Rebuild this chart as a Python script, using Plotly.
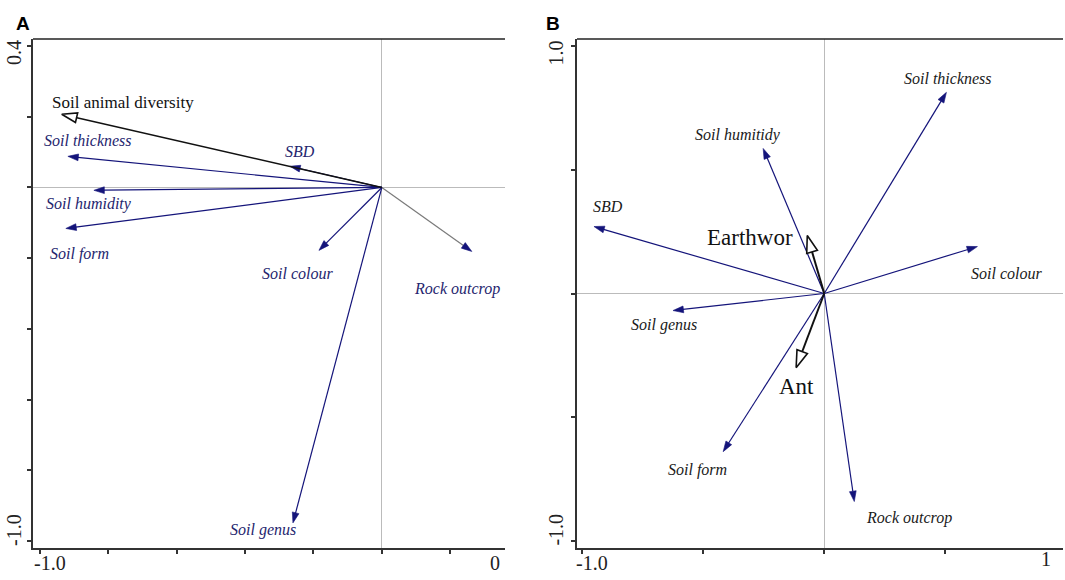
import plotly.graph_objects as go

# panel A: environmental vectors (RDA biplot scores)
a_names = ["Soil thickness", "SBD", "Soil humidity", "Soil form", "Soil colour",
           "Rock outcrop", "Soil genus"]
a_x = [-0.918, -0.269, -0.842, -0.924, -0.184, 0.263, -0.260]
a_y = [0.088, 0.060, -0.008, -0.116, -0.178, -0.181, -0.949]
a_label_x = [-0.860, -0.240, -0.857, -0.883, -0.246, 0.219, -0.348]
a_label_y = [0.133, 0.102, -0.048, -0.187, -0.244, -0.286, -0.969]

# panel A: response variable
a_resp_name = "Soil animal diversity"
a_resp_x = -0.936
a_resp_y = 0.207
a_resp_label = (-0.757, 0.241)

# panel B: environmental vectors
b_names = ["Soil thickness", "Soil humitidy", "SBD", "Soil colour", "Soil genus",
           "Soil form", "Rock outcrop"]
b_x = [0.504, -0.252, -0.950, 0.632, -0.624, -0.417, 0.124]
b_y = [0.814, 0.587, 0.271, 0.190, -0.069, -0.640, -0.842]
b_label_x = [0.512, -0.355, -0.893, 0.752, -0.661, -0.521, 0.351]
b_label_y = [0.870, 0.640, 0.352, 0.081, -0.126, -0.713, -0.907]

# panel B: response variables
b_resp_names = ["Earthwor", "Ant"]
b_resp_x = [-0.070, -0.116]
b_resp_y = [0.235, -0.300]
b_resp_label_x = [-0.306, -0.116]
b_resp_label_y = [0.227, -0.377]

NAVY = "#14147a"
SERIF = "Liberation Serif"

fig = go.Figure()


def add_vector(x, y, xa, ya, line_color, head_color, width=1.2, size=11, open_head=False):
    # size array would make plotly default to bubble opacity, so force opacity=1
    fig.add_trace(go.Scatter(
        x=[0, x], y=[0, y], xaxis=xa, yaxis=ya,
        mode="lines+markers",
        line=dict(color=line_color, width=width),
        marker=dict(symbol=["circle", "arrow"], size=[0, size], angleref="previous", opacity=1,
                    color="white" if open_head else head_color,
                    line=dict(color=head_color, width=1.6 if open_head else 0.6)),
        showlegend=False, hoverinfo="skip"))


# panel A
for i in range(len(a_names)):
    lc = "#7a7a7a" if a_names[i] == "Rock outcrop" else NAVY
    add_vector(a_x[i], a_y[i], "x", "y", lc, NAVY)
add_vector(a_resp_x, a_resp_y, "x", "y", "#111111", "#111111", width=1.5, size=16, open_head=True)

# panel B
for i in range(len(b_names)):
    add_vector(b_x[i], b_y[i], "x2", "y2", NAVY, NAVY)
for i in range(len(b_resp_names)):
    add_vector(b_resp_x[i], b_resp_y[i], "x2", "y2", "#111111", "#111111",
               width=2, size=18, open_head=True)

ann = []
for i in range(len(a_names)):
    ann.append(dict(x=a_label_x[i], y=a_label_y[i], xref="x", yref="y", text="<i>%s</i>" % a_names[i],
                    showarrow=False, font=dict(family=SERIF, size=16, color="#25256e")))
ann.append(dict(x=a_resp_label[0], y=a_resp_label[1], xref="x", yref="y", text=a_resp_name,
                showarrow=False, font=dict(family=SERIF, size=17, color="#111111")))
for i in range(len(b_names)):
    ann.append(dict(x=b_label_x[i], y=b_label_y[i], xref="x2", yref="y2", text="<i>%s</i>" % b_names[i],
                    showarrow=False, font=dict(family=SERIF, size=16, color="#1a1a1a")))
for i in range(len(b_resp_names)):
    ann.append(dict(x=b_resp_label_x[i], y=b_resp_label_y[i], xref="x2", yref="y2", text=b_resp_names[i],
                    showarrow=False, font=dict(family=SERIF, size=23, color="#111111")))

# axis end labels
tick_font = dict(family=SERIF, size=20, color="#222222")
ann += [
    dict(x=-1.0, y=0, xref="x", yref="y domain", text="-1.0", showarrow=False, yanchor="top",
         xshift=10, yshift=-2, font=tick_font),
    dict(x=1, y=0, xref="x domain", yref="y domain", text="0", showarrow=False, yanchor="top",
         xanchor="right", xshift=-3, yshift=-2, font=tick_font),
    dict(x=0, y=0.4, xref="x domain", yref="y", text="0.4", showarrow=False, textangle=-90,
         xanchor="right", xshift=-6, yshift=-7, font=tick_font),
    dict(x=0, y=-1.0, xref="x domain", yref="y", text="-1.0", showarrow=False, textangle=-90,
         xanchor="right", xshift=-6, yshift=11, font=tick_font),
    dict(x=-1.0, y=0, xref="x2", yref="y2 domain", text="-1.0", showarrow=False, yanchor="top",
         xshift=10, yshift=-2, font=tick_font),
    dict(x=1, y=0, xref="x2 domain", yref="y2 domain", text="1", showarrow=False, yanchor="top",
         xanchor="right", xshift=-10, yshift=2, font=tick_font),
    dict(x=0, y=1.0, xref="x2 domain", yref="y2", text="1.0", showarrow=False, textangle=-90,
         xanchor="right", xshift=-8, yshift=-7, font=tick_font),
    dict(x=0, y=-1.0, xref="x2 domain", yref="y2", text="-1.0", showarrow=False, textangle=-90,
         xanchor="right", xshift=-8, yshift=11, font=tick_font),
]

# panel letters
for letter, px in [("A", 14), ("B", 553)]:
    ann.append(dict(x=px / 1065, y=1 - 11 / 580, xref="paper", yref="paper", text="<b>%s</b>" % letter,
                    showarrow=False, font=dict(family="Liberation Sans", size=19, color="#000000")))

axis_style = dict(showline=True, linecolor="#333333", linewidth=2, ticks="outside", ticklen=4,
                  tickwidth=1.5, tickcolor="#333333", showticklabels=False, showgrid=False,
                  zeroline=True, zerolinecolor="#bbbbbb", zerolinewidth=1)

fig.update_layout(
    width=1065, height=580,
    margin=dict(l=0, r=0, t=0, b=0),
    paper_bgcolor="white", plot_bgcolor="white",
    xaxis=dict(domain=[33 / 1065, 505 / 1065], range=[-1.02, 0.36], anchor="y",
               tickvals=[-1.0, -0.8, -0.6, -0.4, -0.2, 0, 0.2], **axis_style),
    yaxis=dict(domain=[32 / 580, 541 / 580], range=[-1.02, 0.42], anchor="x",
               tickvals=[-1.0, -0.8, -0.6, -0.4, -0.2, 0, 0.2, 0.4], **axis_style),
    xaxis2=dict(domain=[577 / 1065, 1063 / 1065], range=[-1.02, 0.985], anchor="y2",
                tickvals=[-1.0, -0.5, 0, 0.5], **axis_style),
    yaxis2=dict(domain=[32 / 580, 541 / 580], range=[-1.03, 1.03], anchor="x2",
                tickvals=[-1.0, -0.5, 0, 0.5, 1.0], **axis_style),
    annotations=ann,
    shapes=[
        dict(type="line", xref="x domain", yref="y domain", x0=0, x1=1, y0=1, y1=1,
             line=dict(color="#222222", width=1.5)),
        dict(type="line", xref="x2 domain", yref="y2 domain", x0=0, x1=1, y0=1, y1=1,
             line=dict(color="#222222", width=1.5)),
    ],
)

# page body has a default margin; remove it so the figure sits at the window corner
fig.write_html("out.html", config={"displayModeBar": False},
               post_script="document.body.style.margin='0';")
